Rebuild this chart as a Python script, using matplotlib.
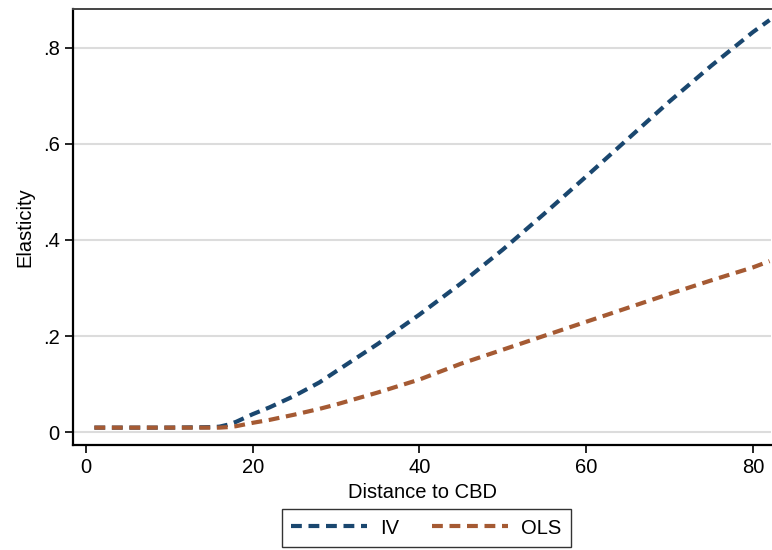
import matplotlib.pyplot as plt

plt.rcParams["font.family"] = ["Liberation Sans", "DejaVu Sans"]

distance = [1, 5, 10, 15, 16, 17, 18, 20, 22, 25, 28, 30, 35, 40, 45, 50, 55, 60, 65, 70, 75, 80, 82]
iv = [0.01, 0.01, 0.01, 0.011, 0.012, 0.016, 0.022, 0.038, 0.052, 0.076, 0.104, 0.127, 0.184, 0.245, 0.31, 0.38, 0.455, 0.532, 0.61, 0.688, 0.762, 0.832, 0.857]
ols = [0.01, 0.01, 0.01, 0.01, 0.01, 0.011, 0.013, 0.02, 0.026, 0.037, 0.049, 0.058, 0.083, 0.11, 0.143, 0.172, 0.201, 0.23, 0.259, 0.288, 0.316, 0.343, 0.356]

xticks = [0, 20, 40, 60, 80]
yticks = [0, 0.2, 0.4, 0.6, 0.8]
ytick_labels = ["0", ".2", ".4", ".6", ".8"]

fig = plt.figure(figsize=(7.72, 5.5), dpi=100)
ax = fig.add_axes([0.0946, 0.191, 0.9044, 0.7926])

ax.plot(distance, iv, color="#1a476f", lw=3, dashes=(2.6, 1.6), label="IV")
ax.plot(distance, ols, color="#a55a33", lw=3, dashes=(2.6, 1.6), label="OLS")

ax.set_xlim(-1.56, 82.2)
ax.set_ylim(-0.026, 0.88)
ax.set_xticks(xticks)
ax.set_yticks(yticks)
ax.set_yticklabels(ytick_labels)
ax.tick_params(direction="out", length=6, width=1.2, labelsize=14.5, colors="black")
ax.yaxis.grid(True, color="#dcdcdc", lw=1.5)
ax.set_axisbelow(True)

for side in ["left", "bottom"]:
    ax.spines[side].set_linewidth(1.6)
    ax.spines[side].set_color("black")
ax.spines["top"].set_color("#444444")
ax.spines["top"].set_linewidth(1.4)
ax.spines["right"].set_visible(False)

ax.set_xlabel("Distance to CBD", fontsize=14.5, labelpad=4)
ax.set_ylabel("Elasticity", fontsize=14.5, labelpad=6)

leg = fig.legend(loc="center", bbox_to_anchor=(0.552, 0.04), ncol=2, fontsize=14.5,
                 frameon=True, fancybox=False, handlelength=3.8, handletextpad=0.65,
                 columnspacing=1.6, borderpad=0.45)
leg.get_frame().set_edgecolor("black")
leg.get_frame().set_linewidth(1.0)

fig.savefig("out.png", dpi=100)
